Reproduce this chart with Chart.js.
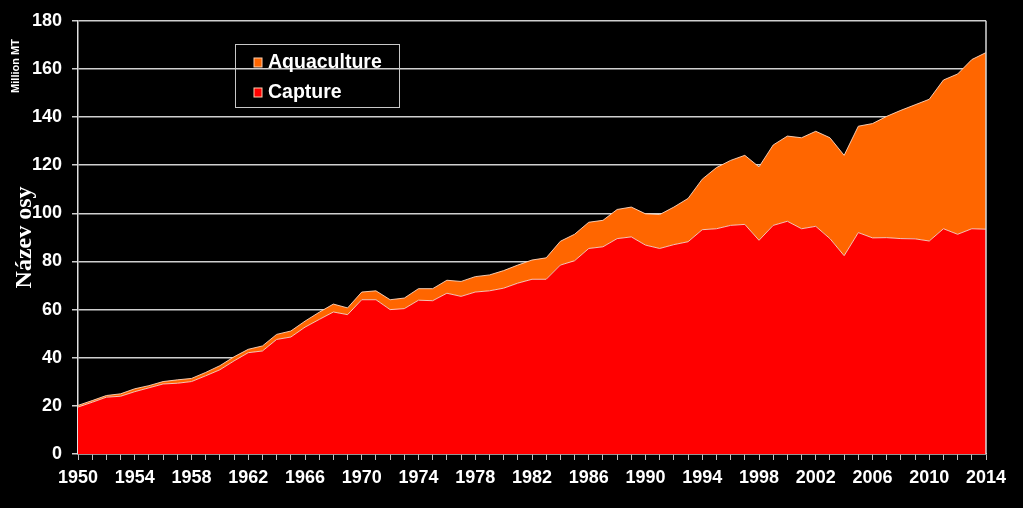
<!DOCTYPE html>
<html>
<head>
<meta charset="utf-8">
<script src="https://cdn.jsdelivr.net/npm/chart.js@4.4.1/dist/chart.umd.min.js"></script>
<style>
  html, body { margin: 0; padding: 0; background: #000; }
  #wrap { width: 1023px; height: 508px; position: relative; }
</style>
</head>
<body>
<div id="wrap"><canvas id="fishChart"></canvas></div>
<script>
const years = [];
for (let y = 1950; y <= 2014; y++) years.push(String(y));

// Million MT
const capture = [
  19.5, 21.5, 23.6, 24.0, 25.9, 27.5, 29.1, 29.4, 30.1, 32.5,
  35.0, 38.7, 42.1, 42.8, 47.6, 48.6, 52.7, 55.9, 59.0, 57.9,
  64.1, 64.1, 60.0, 60.4, 63.9, 63.7, 66.8, 65.5, 67.3, 67.8,
  68.9, 71.0, 72.6, 72.6, 78.5, 80.3, 85.4, 86.1, 89.5, 90.2,
  86.8, 85.4, 87.0, 88.2, 93.2, 93.6, 95.0, 95.4, 88.8, 95.0,
  96.7, 93.6, 94.6, 89.5, 82.4, 92.0, 89.8, 89.9, 89.5, 89.4,
  88.5, 93.6, 91.3, 93.6, 93.4
];
const aquaculture = [
  0.7, 0.7, 0.7, 1.0, 1.2, 0.9, 1.0, 1.4, 1.3, 1.4,
  1.7, 1.7, 1.4, 2.1, 2.1, 2.5, 2.5, 3.0, 3.3, 2.8,
  3.2, 3.7, 4.1, 4.4, 4.8, 5.0, 5.4, 6.2, 6.4, 6.6,
  7.3, 7.5, 8.0, 8.9, 9.9, 11.0, 10.9, 11.0, 12.1, 12.4,
  13.0, 14.1, 15.6, 18.0, 21.0, 25.4, 27.0, 28.7, 30.5, 33.4,
  35.4, 37.8, 39.5, 41.9, 41.7, 44.2, 47.5, 50.4, 53.3, 55.7,
  58.9, 61.8, 66.6, 70.3, 73.4
];
const yTicks = [0, 20, 40, 60, 80, 100, 120, 140, 160, 180];

const legendItems = [
  { label: "Aquaculture", color: "#ff6600" },
  { label: "Capture", color: "#ff0000" }
];

// titles, legend box and right border
const extras = {
  id: "extras",
  afterDraw(chart) {
    const ctx = chart.ctx;
    const area = chart.chartArea;
    ctx.save();
    // right border of plot
    ctx.strokeStyle = "#d9d9d9";
    ctx.lineWidth = 1.5;
    ctx.beginPath();
    ctx.moveTo(area.right, area.top);
    ctx.lineTo(area.right, area.bottom);
    ctx.stroke();

    // axis titles
    ctx.fillStyle = "#ffffff";
    ctx.textAlign = "center";
    ctx.textBaseline = "middle";
    ctx.save();
    ctx.translate(16, 66);
    ctx.rotate(-Math.PI / 2);
    ctx.font = "bold 11px 'Liberation Sans', Arial, sans-serif";
    ctx.fillText("Million MT", 0, 0);
    ctx.restore();
    ctx.save();
    ctx.translate(25, (area.top + area.bottom) / 2);
    ctx.rotate(-Math.PI / 2);
    ctx.font = "bold 24px 'Liberation Serif', 'Times New Roman', serif";
    ctx.fillText("Název osy", 0, 0);
    ctx.restore();

    // legend
    const bx = 235, by = 44, bw = 164, bh = 63;
    ctx.strokeStyle = "#c8c8c8";
    ctx.lineWidth = 1;
    ctx.strokeRect(bx + 0.5, by + 0.5, bw, bh);
    ctx.font = "bold 19.5px 'Liberation Sans', Arial, sans-serif";
    ctx.textAlign = "left";
    legendItems.forEach((item, i) => {
      const cy = by + 18 + i * 30;
      ctx.fillStyle = item.color;
      ctx.fillRect(bx + 19, cy - 4, 8, 9);
      ctx.strokeStyle = "#ffd0b0";
      ctx.strokeRect(bx + 19, cy - 4, 8, 9);
      ctx.fillStyle = "#ffffff";
      ctx.fillText(item.label, bx + 33, cy + 1);
    });
    ctx.restore();
  }
};

const ctx = document.getElementById("fishChart").getContext("2d");
new Chart(ctx, {
  type: "line",
  data: {
    labels: years,
    datasets: [
      {
        label: "Capture",
        data: capture,
        backgroundColor: "#ff0000",
        borderColor: "rgba(255,215,200,0.9)",
        borderWidth: 1,
        pointRadius: 0,
        fill: "origin",
        tension: 0
      },
      {
        label: "Aquaculture",
        data: aquaculture,
        backgroundColor: "#ff6600",
        borderColor: "rgba(255,215,190,0.9)",
        borderWidth: 1,
        pointRadius: 0,
        fill: "-1",
        tension: 0
      }
    ]
  },
  plugins: [extras],
  options: {
    responsive: true,
    maintainAspectRatio: false,
    animation: false,
    layout: { padding: { top: 17, right: 37, left: 0, bottom: 0 } },
    plugins: {
      legend: { display: false },
      tooltip: { enabled: false }
    },
    scales: {
      x: {
        offset: false,
        grid: {
          drawOnChartArea: false,
          drawTicks: true,
          tickLength: 6,
          color: "#bfbfbf",
          lineWidth: 1
        },
        border: { color: "#bfbfbf", width: 1.5 },
        ticks: {
          autoSkip: false,
          maxRotation: 0,
          color: "#ffffff",
          padding: 7,
          font: { family: "'Liberation Sans', Arial, sans-serif", size: 18, weight: "bold" },
          callback: function (val, idx) {
            return (idx % 4 === 0) ? years[idx] : "";
          }
        },
        afterFit(scale) { scale.height = 54; }
      },
      y: {
        stacked: true,
        min: 0,
        max: 180,
        afterBuildTicks(scale) { scale.ticks = yTicks.map(v => ({ value: v })); },
        grid: {
          color: "#cfcfcf",
          lineWidth: 1.5,
          tickLength: 6
        },
        border: { color: "#e0e0e0", width: 1.5 },
        ticks: {
          color: "#ffffff",
          padding: 10,
          font: { family: "'Liberation Sans', Arial, sans-serif", size: 18, weight: "bold" }
        },
        afterFit(scale) { scale.width = 78; }
      }
    }
  }
});
</script>
</body>
</html>
